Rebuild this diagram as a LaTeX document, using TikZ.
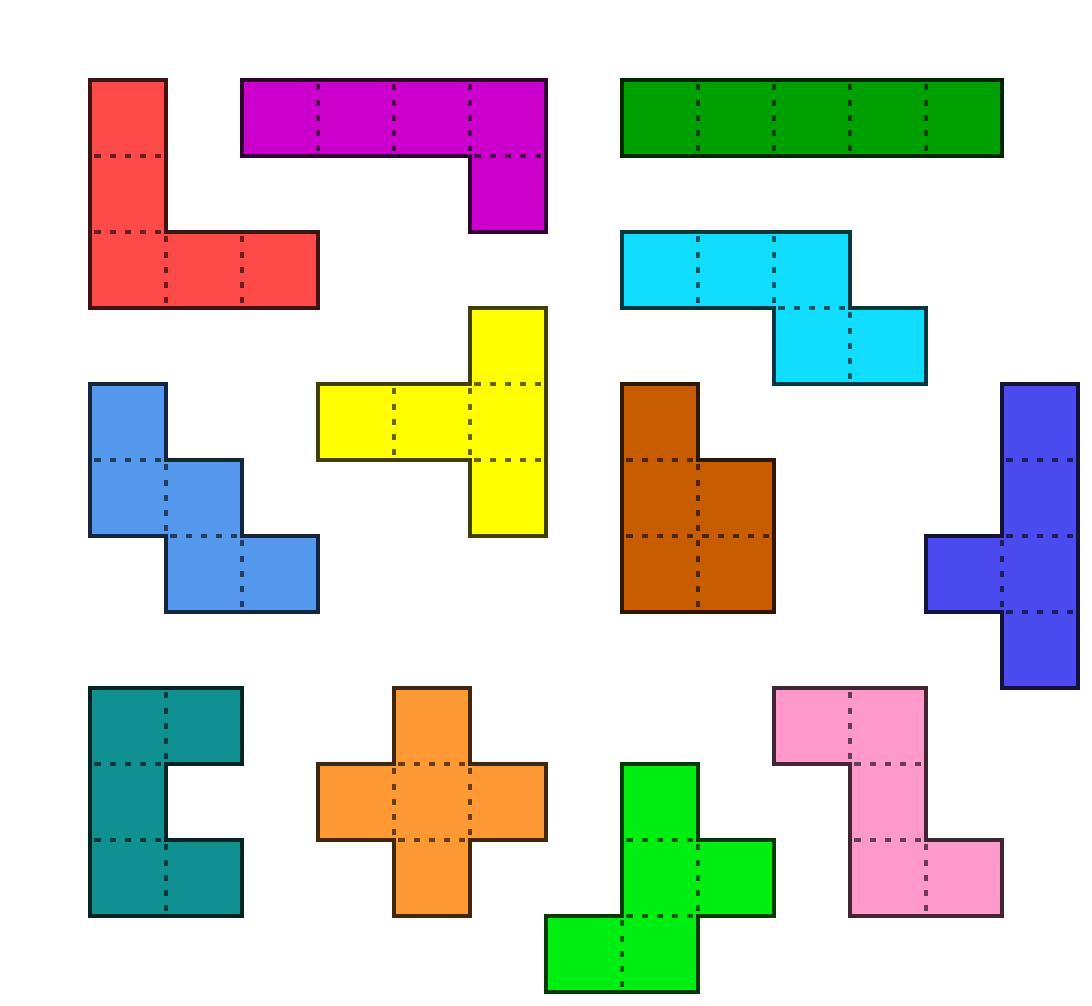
\documentclass[tikz,border=0pt]{standalone}
\usepackage{tikz}
\definecolor{cRed}{HTML}{FF4A4A}
\definecolor{cMag}{HTML}{CC00CC}
\definecolor{cGrn}{HTML}{00A000}
\definecolor{cCyan}{HTML}{11DDFF}
\definecolor{cYel}{HTML}{FFFF00}
\definecolor{cBlue}{HTML}{5599EE}
\definecolor{cBrown}{HTML}{C85C00}
\definecolor{cInd}{HTML}{4A4AEE}
\definecolor{cTeal}{HTML}{109090}
\definecolor{cOra}{HTML}{FF9933}
\definecolor{cLime}{HTML}{00EE11}
\definecolor{cPink}{HTML}{FF99CC}
\tikzset{
  cellfill/.style={fill=#1},
  celldots/.style={draw=#1!40!black, line width=1.4pt, dash pattern=on 1.4pt off 4.3pt, dash phase=-2.5pt},
  outline/.style={draw=#1!25!black, line width=1.4pt, line join=miter},
}
\newcommand{\pentomino}[3]{%
  \foreach \c/\r in {#2} {\fill[cellfill=#1] (\c,\r) rectangle ++(1,1);}
  \foreach \c/\r in {#2} {\draw[celldots=#1] (\c,\r) rectangle ++(1,1);}
  \draw[outline=#1] #3 -- cycle;
}
\begin{document}
\begin{tikzpicture}[x=1cm,y=-1cm]
\fill[white] (-1.184,-1.053) rectangle (13.184,12.171);
\useasboundingbox (-1.184,-1.053) rectangle (13.184,12.171);
% red L
\pentomino{cRed}{0/0,0/1,0/2,1/2,2/2}{(0,0)--(1,0)--(1,2)--(3,2)--(3,3)--(0,3)}
% magenta
\pentomino{cMag}{2/0,3/0,4/0,5/0,5/1}{(2,0)--(6,0)--(6,2)--(5,2)--(5,1)--(2,1)}
% green I
\pentomino{cGrn}{7/0,8/0,9/0,10/0,11/0}{(7,0)--(12,0)--(12,1)--(7,1)}
% cyan
\pentomino{cCyan}{7/2,8/2,9/2,9/3,10/3}{(7,2)--(10,2)--(10,3)--(11,3)--(11,4)--(9,4)--(9,3)--(7,3)}
% yellow T
\pentomino{cYel}{5/3,5/4,5/5,3/4,4/4}{(5,3)--(6,3)--(6,6)--(5,6)--(5,5)--(3,5)--(3,4)--(5,4)}
% blue W
\pentomino{cBlue}{0/4,0/5,1/5,1/6,2/6}{(0,4)--(1,4)--(1,5)--(2,5)--(2,6)--(3,6)--(3,7)--(1,7)--(1,6)--(0,6)}
% brown P
\pentomino{cBrown}{7/4,7/5,7/6,8/5,8/6}{(7,4)--(8,4)--(8,5)--(9,5)--(9,7)--(7,7)}
% indigo Y
\pentomino{cInd}{12/4,12/5,12/6,12/7,11/6}{(12,4)--(13,4)--(13,8)--(12,8)--(12,7)--(11,7)--(11,6)--(12,6)}
% teal U
\pentomino{cTeal}{0/8,0/9,0/10,1/8,1/10}{(0,8)--(2,8)--(2,9)--(1,9)--(1,10)--(2,10)--(2,11)--(0,11)}
% orange X
\pentomino{cOra}{4/8,3/9,4/9,5/9,4/10}{(4,8)--(5,8)--(5,9)--(6,9)--(6,10)--(5,10)--(5,11)--(4,11)--(4,10)--(3,10)--(3,9)--(4,9)}
% lime F
\pentomino{cLime}{7/9,7/10,8/10,6/11,7/11}{(7,9)--(8,9)--(8,10)--(9,10)--(9,11)--(8,11)--(8,12)--(6,12)--(6,11)--(7,11)}
% pink Z
\pentomino{cPink}{9/8,10/8,10/9,10/10,11/10}{(9,8)--(11,8)--(11,10)--(12,10)--(12,11)--(10,11)--(10,9)--(9,9)}
\end{tikzpicture}
\end{document}
